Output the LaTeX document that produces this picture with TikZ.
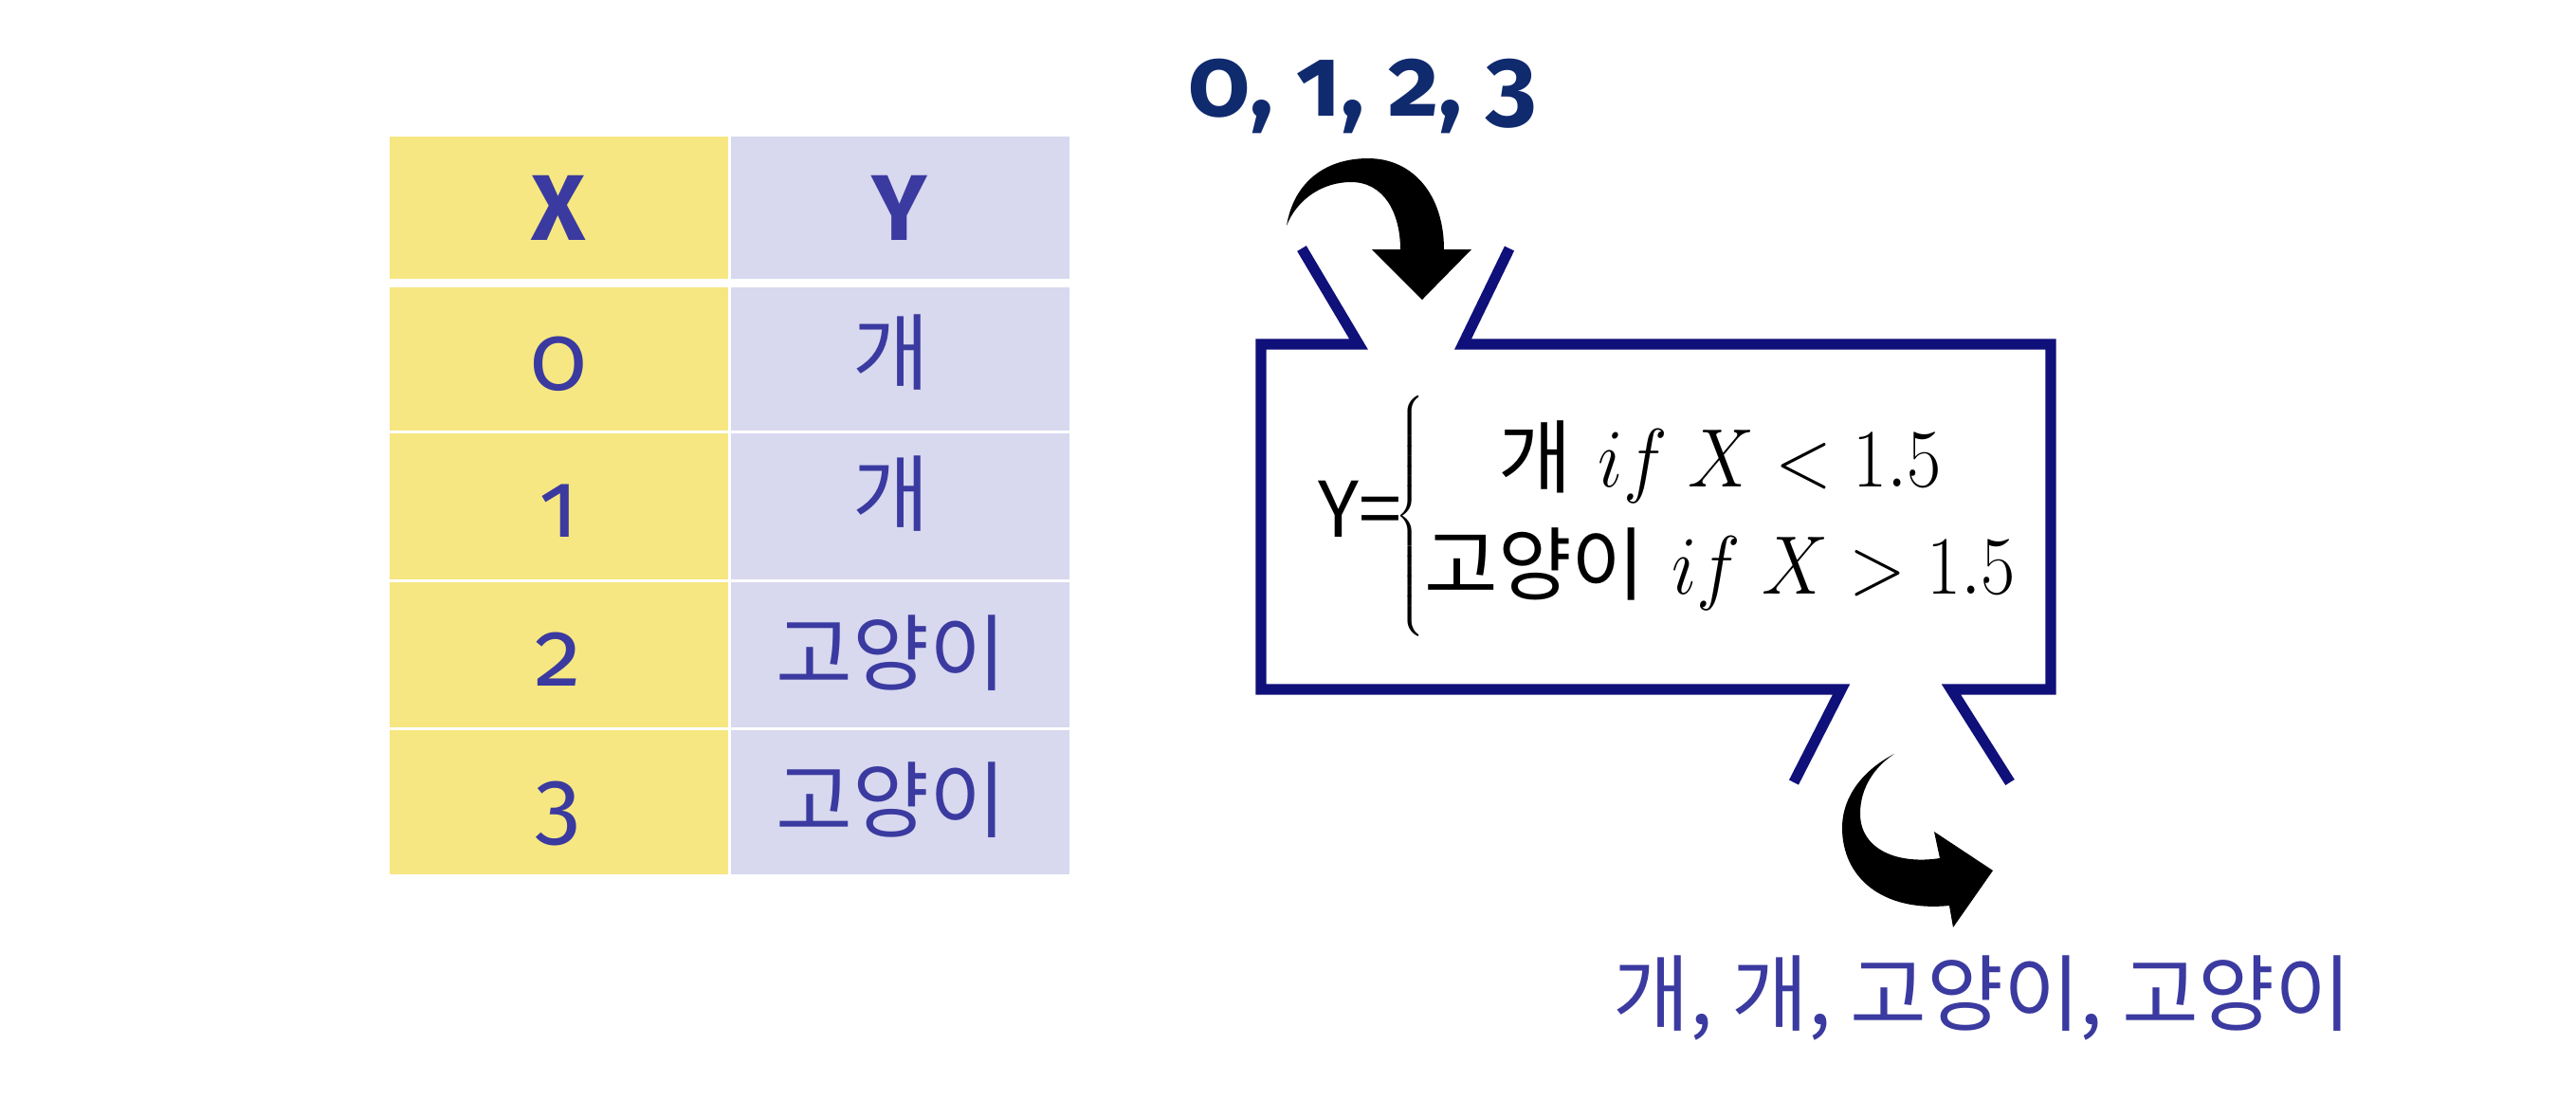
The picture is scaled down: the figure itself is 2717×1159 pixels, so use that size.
\documentclass[tikz,border=0pt]{standalone}
\usepackage{fontspec}
\usepackage{graphicx}
\newfontfamily\tabfont[Numbers=OldStyle]{Fira Sans}
\newfontfamily\krfont{Noto Sans CJK KR}
\definecolor{txtblue}{RGB}{58,58,160}
\definecolor{navytxt}{RGB}{16,42,110}
\definecolor{boxnavy}{RGB}{16,16,122}
\definecolor{cellyellow}{RGB}{246,231,130}
\definecolor{celllav}{RGB}{216,216,239}
\tikzset{
  tabnum/.style={text=txtblue, inner sep=0pt, anchor=base, font=\tabfont\fontsize{28}{34}\selectfont},
  tabhead/.style={tabnum, font=\tabfont\bfseries\fontsize{28}{34}\selectfont},
  krtext/.style={text=txtblue, inner sep=0pt, font=\krfont\fontsize{25}{30}\selectfont},
  boxline/.style={draw=boxnavy, line width=3.2pt, miter limit=10},
  bigarrow/.style={fill=black, draw=none}
}
\begin{document}
\begin{tikzpicture}[x=0.01cm,y=-0.01cm]
\useasboundingbox (0,0) rectangle (2717,1159);
\fill[white] (0,0) rectangle (2717,1159);

% table cells
\fill[cellyellow] (411,144) rectangle (768,294);
\fill[celllav] (771,144) rectangle (1128,294);
\fill[cellyellow] (411,303) rectangle (768,454);
\fill[celllav] (771,303) rectangle (1128,454);
\fill[cellyellow] (411,457) rectangle (768,611);
\fill[celllav] (771,457) rectangle (1128,611);
\fill[cellyellow] (411,614) rectangle (768,767);
\fill[celllav] (771,614) rectangle (1128,767);
\fill[cellyellow] (411,770) rectangle (768,922);
\fill[celllav] (771,770) rectangle (1128,922);

% table text
\node[tabhead] (hx) at (589,253) {X};
\node[tabhead] (hy) at (949,253) {Y};
\node[tabnum] (x0) at (589,411) {0};
\node[tabnum] (x1) at (589,566) {1};
\node[tabnum] (x2) at (589,723) {2};
\node[tabnum] (x3) at (589,880) {3};
\node[krtext] (y0) at (940,372) {개};
\node[krtext] (y1) at (940,521) {개};
\node[krtext] (y2) at (940,689) {고양이};
\node[krtext] (y3) at (940,844) {고양이};

% input label
\node[tabhead, text=navytxt, font=\tabfont\bfseries\fontsize{29.5}{34}\selectfont] (inlab) at (1437,122) {0, 1, 2, 3};

% function box
\draw[boxline] (1373,262) -- (1433,363) -- (1330,363) -- (1330,727) -- (1942,727) -- (1892,825);
\draw[boxline] (1592,262) -- (1543,363) -- (2163,363) -- (2163,727) -- (2058,727) -- (2120,825);

% formula
\node[anchor=west, inner sep=0pt, text=black, font=\fontsize{24}{28}\selectfont] (formula) at (1390,544.5)
  {\delimiterfactor=1000 \delimitershortfall=0pt
   $\mbox{\krfont\fontsize{23}{28}\selectfont Y=}\mkern-4.5mu\left\{\renewcommand\arraystretch{1.14}\begin{array}{@{}c@{}}
     \rule{0pt}{26.5pt}\mbox{\krfont 개}\hspace{8pt}\scalebox{0.9}[1]{$if\;X<1.5$}\\
     \rule[-12pt]{0pt}{12pt}\mbox{\krfont 고양이}\hspace{8pt}\scalebox{0.9}[1]{$if\;X>1.5$}
   \end{array}\right.$};

% curved arrow in
\fill[bigarrow] (1357,238) .. controls (1365,190) and (1400,167) .. (1443,167)
  .. controls (1490,167) and (1523,205) .. (1523,263)
  -- (1552,263) -- (1500,316) -- (1447,263) -- (1477,263)
  .. controls (1477,225) and (1460,192) .. (1425,192)
  .. controls (1395,192) and (1368,210) .. (1357,238) -- cycle;

% curved arrow out
\fill[bigarrow] (1998,795) .. controls (1965,812) and (1943,840) .. (1943,873)
  .. controls (1943,925) and (1985,962) .. (2056,955)
  -- (2060,978) -- (2102,918) -- (2040,877) -- (2046,905)
  .. controls (2000,912) and (1962,895) .. (1962,858)
  .. controls (1962,830) and (1978,808) .. (1998,795) -- cycle;

% output label
\node[krtext] (outlab) at (2091,1052) {개, 개, 고양이, 고양이};
\end{tikzpicture}
\end{document}
